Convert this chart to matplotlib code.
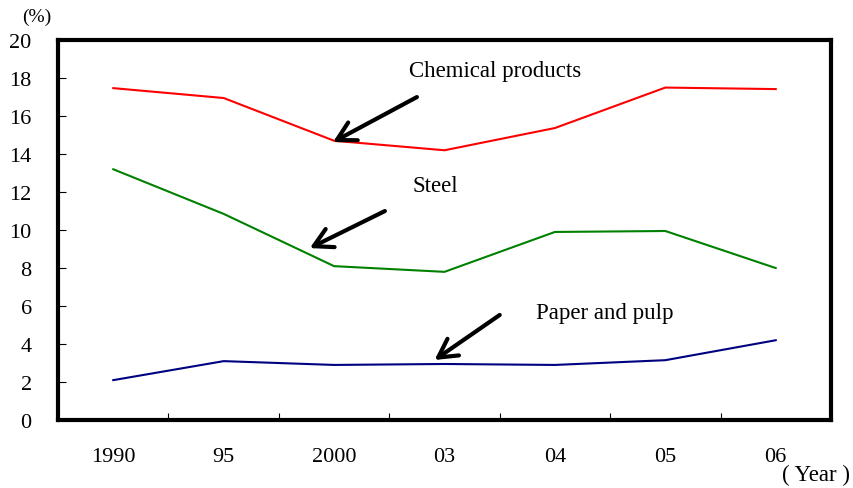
import matplotlib
matplotlib.use("Agg")
import matplotlib.pyplot as plt

plt.rcParams['font.family'] = ['Liberation Serif', 'DejaVu Serif']

years = ["1990", "95", "2000", "03", "04", "05", "06"]
chemical = [17.47, 16.95, 14.7, 14.2, 15.37, 17.5, 17.42]
steel = [13.2, 10.85, 8.1, 7.8, 9.9, 9.95, 8.0]
paper = [2.1, 3.1, 2.9, 2.95, 2.9, 3.15, 4.2]

fig = plt.figure(figsize=(8.54, 4.89), dpi=100)
ax = fig.add_axes([0.068, 0.139, 0.905, 0.777])

x = list(range(len(years)))
ax.plot(x, chemical, color='#ff0000', lw=1.5)
ax.plot(x, steel, color='#008000', lw=1.5)
ax.plot(x, paper, color='#000080', lw=1.5)

ax.set_xlim(-0.5, len(years) - 0.5)
ax.set_ylim(0, 20)
ax.set_yticks(range(0, 21, 2))
ax.set_xticks(x)
ax.set_xticklabels(years)
ax.set_xticks([i + 0.5 for i in range(len(years) - 1)], minor=True)
ax.tick_params(axis='x', which='major', length=0, pad=19.5, labelsize=16)
ax.tick_params(axis='x', which='minor', direction='in', length=5, width=0.8)
ax.tick_params(axis='y', direction='in', length=6, width=0.8, pad=19, labelsize=16)
for s in ax.spines.values():
    s.set_linewidth(3)

arrow = dict(arrowstyle='->,head_length=0.6,head_width=0.33', lw=3, color='black',
             mutation_scale=22, shrinkA=0, shrinkB=0)
ax.annotate('', xy=(1.99, 14.63), xytext=(2.75, 17.0), arrowprops=arrow)
ax.annotate('', xy=(1.78, 9.05), xytext=(2.46, 11.0), arrowprops=arrow)
ax.annotate('', xy=(2.91, 3.16), xytext=(3.5, 5.53), arrowprops=arrow)

ax.text(3.46, 18.42, 'Chemical products', fontsize=16.5, ha='center', va='center')
ax.text(2.92, 12.37, 'Steel', fontsize=16.5, ha='center', va='center')
ax.text(4.45, 5.68, 'Paper and pulp', fontsize=16.5, ha='center', va='center')

fig.text(37 / 854, 1 - 17 / 489, '(%)', fontsize=14, ha='center', va='center')
fig.text(816 / 854, 1 - 475 / 489, '( Year )', fontsize=16.5, ha='center', va='center')

fig.savefig('out.png', dpi=100)
